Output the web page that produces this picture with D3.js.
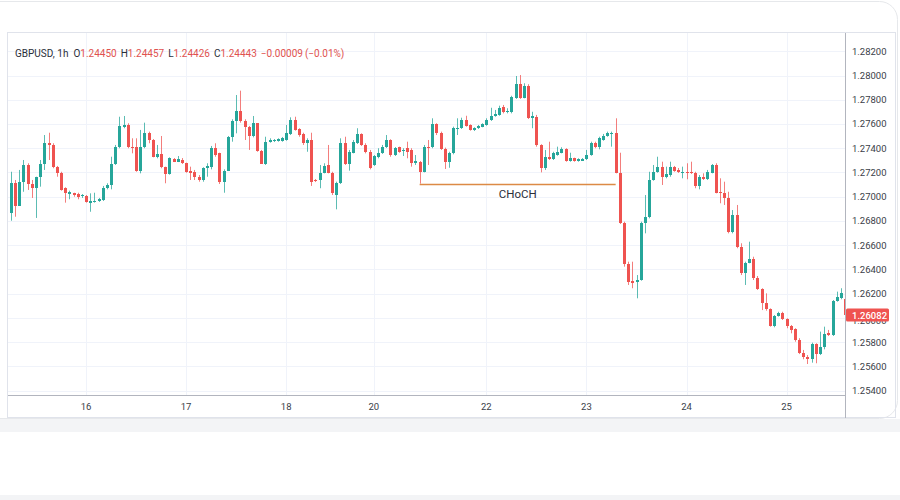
<!DOCTYPE html>
<html><head><meta charset="utf-8">
<script src="https://cdn.jsdelivr.net/npm/d3@7/dist/d3.min.js"></script>
<style>
html,body{margin:0;padding:0;background:#fff;}
svg{display:block;}
</style></head>
<body>
<svg id="chart" width="900" height="500"></svg>
<script>
// ---------- DATA (GBPUSD, 1h) ----------
const open = [
1.26868,1.27116,1.26924,1.27124,1.27262,1.27105,1.27070,1.27160,1.27270,1.27441,
1.27427,1.27243,1.27193,1.27070,1.27022,1.27028,1.27022,1.27006,1.27008,1.26951,
1.26959,1.26962,1.26973,1.27070,1.27097,1.27270,1.27408,1.27578,1.27592,1.27408,
1.27408,1.27215,1.27408,1.27528,1.27468,1.27330,1.27353,1.27243,1.27188,1.27309,
1.27289,1.27303,1.27276,1.27215,1.27206,1.27165,1.27138,1.27235,1.27243,1.27400,
1.27358,1.27124,1.27215,1.27490,1.27627,1.27710,1.27627,1.27573,1.27501,1.27606,
1.27380,1.27270,1.27454,1.27457,1.27462,1.27462,1.27468,1.27518,1.27633,1.27556,
1.27518,1.27446,1.27468,1.27138,1.27138,1.27193,1.27262,1.27198,1.27014,1.27111,
1.27441,1.27270,1.27363,1.27441,1.27518,1.27427,1.27371,1.27262,1.27330,1.27358,
1.27408,1.27468,1.27344,1.27408,1.27377,1.27400,1.27386,1.27276,1.27289,1.27206,
1.27413,1.27413,1.27597,1.27523,1.27394,1.27284,1.27358,1.27565,1.27565,1.27633,
1.27592,1.27551,1.27565,1.27578,1.27592,1.27633,1.27668,1.27675,1.27743,1.27696,
1.27696,1.27812,1.27930,1.27817,1.27916,1.27647,1.27660,1.27427,1.27235,1.27330,
1.27311,1.27344,1.27363,1.27391,1.27297,1.27317,1.27295,1.27297,1.27309,1.27344,
1.27446,1.27408,1.27468,1.27501,1.27518,1.27528,1.27198,1.26786,1.26445,1.26307,
1.26299,1.26313,1.26781,1.26830,1.27138,1.27206,1.27243,1.27165,1.27179,1.27243,
1.27221,1.27198,1.27206,1.27206,1.27198,1.27089,1.27165,1.27144,1.27198,1.27262,
1.27041,1.27033,1.26987,1.26711,1.26849,1.26583,1.26368,1.26456,1.26484,1.26327,
1.26236,1.26126,1.26071,1.25933,1.26016,1.26043,1.25989,1.25933,1.25906,1.25820,
1.25713,1.25680,1.25659,1.25785,1.25702,1.25758,1.25873,1.25859,1.26142,1.26162,
1.26154];
const high = [
1.27206,1.27138,1.27221,1.27303,1.27276,1.27138,1.27165,1.27303,1.27509,1.27528,
1.27441,1.27254,1.27206,1.27078,1.27050,1.27033,1.27033,1.27022,1.27014,1.27028,
1.27033,1.26990,1.27089,1.27111,1.27330,1.27427,1.27660,1.27666,1.27606,1.27482,
1.27482,1.27551,1.27611,1.27537,1.27476,1.27427,1.27501,1.27248,1.27325,1.27319,
1.27336,1.27319,1.27281,1.27248,1.27221,1.27179,1.27243,1.27276,1.27419,1.27441,
1.27363,1.27226,1.27501,1.27639,1.27839,1.27875,1.27639,1.27584,1.27666,1.27608,
1.27386,1.27495,1.27482,1.27476,1.27482,1.27493,1.27592,1.27655,1.27660,1.27565,
1.27528,1.27482,1.27528,1.27146,1.27262,1.27276,1.27427,1.27206,1.27124,1.27482,
1.27495,1.27386,1.27468,1.27565,1.27523,1.27441,1.27386,1.27344,1.27400,1.27427,
1.27509,1.27474,1.27410,1.27413,1.27400,1.27454,1.27400,1.27344,1.27295,1.27427,
1.27468,1.27647,1.27606,1.27537,1.27405,1.27371,1.27578,1.27647,1.27652,1.27668,
1.27597,1.27573,1.27592,1.27606,1.27647,1.27734,1.27716,1.27751,1.27757,1.27730,
1.27833,1.27996,1.28004,1.27936,1.27928,1.27701,1.27675,1.27433,1.27386,1.27454,
1.27371,1.27413,1.27408,1.27400,1.27363,1.27322,1.27317,1.27319,1.27386,1.27454,
1.27454,1.27495,1.27518,1.27537,1.27537,1.27647,1.27363,1.26794,1.26464,1.26464,
1.26354,1.26794,1.27014,1.27206,1.27262,1.27330,1.27289,1.27248,1.27289,1.27254,
1.27237,1.27248,1.27276,1.27289,1.27206,1.27179,1.27193,1.27221,1.27270,1.27276,
1.27152,1.27124,1.27041,1.26890,1.26932,1.26616,1.26464,1.26629,1.26505,1.26346,
1.26245,1.26203,1.26079,1.26024,1.26051,1.26051,1.25997,1.25942,1.25915,1.25833,
1.25736,1.25694,1.25796,1.25791,1.25887,1.25928,1.25901,1.26148,1.26217,1.26245,
1.26253];
const low = [
1.26802,1.26835,1.26968,1.27041,1.27056,1.26990,1.26825,1.27083,1.27221,1.27303,
1.27235,1.27165,1.27050,1.26951,1.26979,1.27000,1.26979,1.26990,1.26951,1.26876,
1.26951,1.26957,1.26965,1.27061,1.27061,1.27262,1.27400,1.27565,1.27400,1.27358,
1.27206,1.27193,1.27400,1.27441,1.27325,1.27317,1.27235,1.27111,1.27182,1.27286,
1.27286,1.27270,1.27198,1.27138,1.27138,1.27124,1.27124,1.27165,1.27226,1.27330,
1.27105,1.27033,1.27212,1.27454,1.27523,1.27611,1.27468,1.27386,1.27490,1.27371,
1.27270,1.27262,1.27446,1.27451,1.27454,1.27454,1.27462,1.27509,1.27545,1.27495,
1.27427,1.27371,1.27089,1.27121,1.27070,1.27193,1.27193,1.27014,1.26896,1.27105,
1.27262,1.27215,1.27358,1.27435,1.27419,1.27358,1.27226,1.27254,1.27317,1.27353,
1.27402,1.27330,1.27336,1.27363,1.27336,1.27317,1.27248,1.27262,1.27108,1.27201,
1.27262,1.27400,1.27509,1.27386,1.27229,1.27239,1.27350,1.27509,1.27559,1.27578,
1.27545,1.27542,1.27559,1.27573,1.27586,1.27625,1.27660,1.27668,1.27688,1.27688,
1.27688,1.27807,1.27807,1.27812,1.27641,1.27565,1.27413,1.27201,1.27221,1.27303,
1.27303,1.27338,1.27358,1.27289,1.27289,1.27289,1.27289,1.27295,1.27303,1.27338,
1.27400,1.27391,1.27462,1.27495,1.27413,1.27193,1.26775,1.26423,1.26272,1.26245,
1.26162,1.26307,1.26698,1.26822,1.27132,1.27198,1.27097,1.27152,1.27165,1.27206,
1.27196,1.27152,1.27144,1.27188,1.27070,1.27061,1.27138,1.27138,1.27193,1.27028,
1.26946,1.26932,1.26698,1.26698,1.26575,1.26354,1.26272,1.26451,1.26313,1.26231,
1.26065,1.26060,1.25928,1.25923,1.26011,1.25983,1.25915,1.25873,1.25804,1.25702,
1.25659,1.25620,1.25631,1.25626,1.25694,1.25741,1.25851,1.25851,1.26134,1.26154,
1.25915];
const close = [
1.27116,1.26924,1.27124,1.27262,1.27105,1.27070,1.27160,1.27270,1.27446,1.27427,
1.27243,1.27193,1.27056,1.27028,1.27036,1.27014,1.26995,1.27014,1.26959,1.26965,
1.26967,1.26979,1.27075,1.27097,1.27270,1.27408,1.27584,1.27589,1.27408,1.27402,
1.27215,1.27408,1.27528,1.27468,1.27330,1.27353,1.27243,1.27188,1.27317,1.27289,
1.27309,1.27276,1.27206,1.27198,1.27160,1.27138,1.27235,1.27254,1.27400,1.27344,
1.27124,1.27215,1.27490,1.27627,1.27710,1.27627,1.27573,1.27501,1.27606,1.27380,
1.27270,1.27454,1.27468,1.27468,1.27474,1.27482,1.27523,1.27633,1.27551,1.27509,
1.27441,1.27468,1.27124,1.27130,1.27198,1.27254,1.27193,1.27028,1.27111,1.27441,
1.27270,1.27371,1.27454,1.27518,1.27427,1.27371,1.27235,1.27336,1.27363,1.27413,
1.27468,1.27344,1.27400,1.27371,1.27386,1.27371,1.27281,1.27295,1.27206,1.27413,
1.27405,1.27597,1.27523,1.27394,1.27289,1.27358,1.27570,1.27570,1.27633,1.27586,
1.27551,1.27565,1.27586,1.27597,1.27633,1.27668,1.27680,1.27734,1.27696,1.27707,
1.27825,1.27930,1.27817,1.27916,1.27652,1.27668,1.27427,1.27235,1.27330,1.27311,
1.27358,1.27371,1.27391,1.27297,1.27317,1.27295,1.27311,1.27311,1.27344,1.27446,
1.27408,1.27482,1.27501,1.27523,1.27528,1.27198,1.26786,1.26445,1.26299,1.26291,
1.26313,1.26781,1.26830,1.27138,1.27206,1.27243,1.27165,1.27188,1.27243,1.27215,
1.27206,1.27206,1.27193,1.27198,1.27089,1.27165,1.27144,1.27206,1.27262,1.27033,
1.27028,1.26987,1.26711,1.26849,1.26583,1.26368,1.26456,1.26484,1.26327,1.26236,
1.26126,1.26071,1.25933,1.26016,1.26043,1.25989,1.25933,1.25901,1.25815,1.25708,
1.25675,1.25659,1.25785,1.25702,1.25763,1.25868,1.25859,1.26142,1.26170,1.26203,
1.26024];

const dayLabels = ["16","17","18","20","22","23","24","25"];
const dayStartBar = [18, 42, 66, 87, 114, 138, 162, 186];
const priceTicks = [1.254,1.256,1.258,1.260,1.262,1.264,1.266,1.268,1.270,1.272,1.274,1.276,1.278,1.280,1.282];
const lastPriceText = "1.26082";
const chochFrom = 98, chochTo = 145, chochPrice = 1.27108, chochLabel = "CHoCH";
const header = [
  {t:"GBPUSD, 1h", c:"label"}, {t:"O", c:"label", gap:5}, {t:"1.24450", c:"val"},
  {t:"H", c:"label", gap:4}, {t:"1.24457", c:"val"},
  {t:"L", c:"label", gap:4}, {t:"1.24426", c:"val"},
  {t:"C", c:"label", gap:4}, {t:"1.24443", c:"val"},
  {t:"\u22120.00009", c:"val", gap:4}, {t:"(\u22120.01%)", c:"val", gap:2}
];

// ---------- LAYOUT ----------
const W = 900, H = 500;
const UP = "#26a69a", DOWN = "#ef5350";
const plotL = 8, plotR = 845.5, plotT = 33, plotB = 395.5;
const n = close.length;

const svg = d3.select("#chart");
svg.append("rect").attr("width", W).attr("height", H).attr("fill", "#ffffff");
// page bands
svg.append("rect").attr("x", 0).attr("y", 419).attr("width", W).attr("height", 13).attr("fill", "#f3f4f6");
svg.append("rect").attr("x", 0).attr("y", 495).attr("width", W).attr("height", 5).attr("fill", "#f3f4f6");
// card outline
svg.append("rect").attr("x", -20.5).attr("y", 1.5).attr("width", 918).attr("height", 417)
  .attr("rx", 18).attr("fill", "none").attr("stroke", "#e6e8eb");

const x = d3.scaleBand().domain(d3.range(n)).range([8.9, 847.1]).padding(0);
const y = d3.scaleLinear().domain([1.254, 1.282]).range([390.67, 51.27]);
const cx = i => x(i) + x.bandwidth() / 2;

// grid
const grid = svg.append("g").attr("shape-rendering", "crispEdges");
grid.selectAll(".hg").data(priceTicks).join("line")
  .attr("x1", plotL).attr("x2", plotR)
  .attr("y1", d => Math.round(y(d)) + 0.5).attr("y2", d => Math.round(y(d)) + 0.5)
  .attr("stroke", "#f0f3fa");
grid.selectAll(".vg").data(dayStartBar).join("line")
  .attr("x1", d => Math.round(cx(d)) + 0.5).attr("x2", d => Math.round(cx(d)) + 0.5)
  .attr("y1", plotT).attr("y2", plotB)
  .attr("stroke", "#f0f3fa");

// candles
const defs = svg.append("defs");
defs.append("clipPath").attr("id", "plotclip").append("rect")
  .attr("x", plotL).attr("y", plotT).attr("width", plotR - plotL - 0.5).attr("height", plotB - plotT);
const cg = svg.append("g").attr("clip-path", "url(#plotclip)");
const idx = d3.range(n);
const col = i => close[i] >= open[i] ? UP : DOWN;
cg.selectAll(".wick").data(idx).join("line")
  .attr("x1", i => Math.round(cx(i)) + 0.5).attr("x2", i => Math.round(cx(i)) + 0.5)
  .attr("y1", i => y(Math.max(high[i], open[i], close[i])))
  .attr("y2", i => y(Math.min(low[i], open[i], close[i])))
  .attr("stroke", col).attr("stroke-opacity", 0.75).attr("stroke-width", 1);
cg.selectAll(".body").data(idx).join("rect")
  .attr("x", i => Math.round(cx(i)) - 1)
  .attr("width", 3)
  .attr("y", i => y(Math.max(open[i], close[i])))
  .attr("height", i => Math.max(1, Math.abs(y(open[i]) - y(close[i]))))
  .attr("fill", col).attr("shape-rendering", "crispEdges");

// CHoCH
const chY = Math.round(y(chochPrice)) + 0.5;
svg.append("line").attr("x1", cx(chochFrom)).attr("x2", cx(chochTo))
  .attr("y1", chY).attr("y2", chY)
  .attr("stroke", "#dc8a45").attr("stroke-width", 1.6);
svg.append("text").attr("x", (cx(chochFrom) + cx(chochTo)) / 2).attr("y", chY + 9.5)
  .attr("text-anchor", "middle").attr("dominant-baseline", "central")
  .attr("font-family", "Roboto, 'Noto Sans', sans-serif").attr("font-size", 11.5)
  .attr("fill", "#2a2e39").text(chochLabel);

// frame lines
const fr = svg.append("g").attr("shape-rendering", "crispEdges").attr("fill", "none");
fr.append("line").attr("x1", 7).attr("x2", 896).attr("y1", 32.5).attr("y2", 32.5).attr("stroke", "#e0e3eb");
fr.append("line").attr("x1", 7.5).attr("x2", 7.5).attr("y1", 32.5).attr("y2", 417.5).attr("stroke", "#e0e3eb");
fr.append("line").attr("x1", 7).attr("x2", 896).attr("y1", 417.5).attr("y2", 417.5).attr("stroke", "#e0e3eb");
fr.append("line").attr("x1", 895.5).attr("x2", 895.5).attr("y1", 32.5).attr("y2", 417.5).attr("stroke", "#e0e3eb");
fr.append("line").attr("x1", 7.5).attr("x2", 845.5).attr("y1", 395.5).attr("y2", 395.5).attr("stroke", "#b2b5be");
fr.append("line").attr("x1", 845.5).attr("x2", 845.5).attr("y1", 32.5).attr("y2", 417.5).attr("stroke", "#b2b5be");

// price axis labels (the last-price tag is drawn on top, as in the reference)
const fmt = d3.format(".5f");
const lpY = y(close[n - 1]);
svg.append("g").selectAll("text").data(priceTicks).join("text")
  .attr("x", 852).attr("y", d => y(d) + (Math.abs(y(d) - lpY) < 6 ? 3 : 0)).attr("dominant-baseline", "central")
  .attr("font-family", "Roboto, 'Noto Sans', sans-serif").attr("font-size", 9.5)
  .attr("fill", "#3a3e48").text(d => fmt(d));

// last price label
svg.append("rect").attr("x", 846).attr("y", lpY - 6.5).attr("width", 43).attr("height", 13)
  .attr("rx", 1.5).attr("fill", DOWN);
svg.append("text").attr("x", 852).attr("y", lpY).attr("dominant-baseline", "central")
  .attr("font-family", "Roboto, 'Noto Sans', sans-serif").attr("font-size", 9.5)
  .attr("font-weight", 500).attr("fill", "#ffffff").text(lastPriceText);

// time axis labels
svg.append("g").selectAll("text").data(dayStartBar).join("text")
  .attr("x", d => cx(d)).attr("y", 406.5).attr("text-anchor", "middle")
  .attr("dominant-baseline", "central")
  .attr("font-family", "Roboto, 'Noto Sans', sans-serif").attr("font-size", 9.5)
  .attr("fill", "#3a3e48").text((d, i) => dayLabels[i]);

// header legend
const ht = svg.append("text").attr("x", 15).attr("y", 52.7).attr("dominant-baseline", "central")
  .attr("font-family", "Roboto, 'Noto Sans', sans-serif").attr("font-size", 10);
header.forEach(h => {
  ht.append("tspan").attr("dx", h.gap || 0)
    .attr("fill", h.c === "val" ? "#e0524f" : "#2a2e39").text(h.t);
});
</script>
</body></html>
